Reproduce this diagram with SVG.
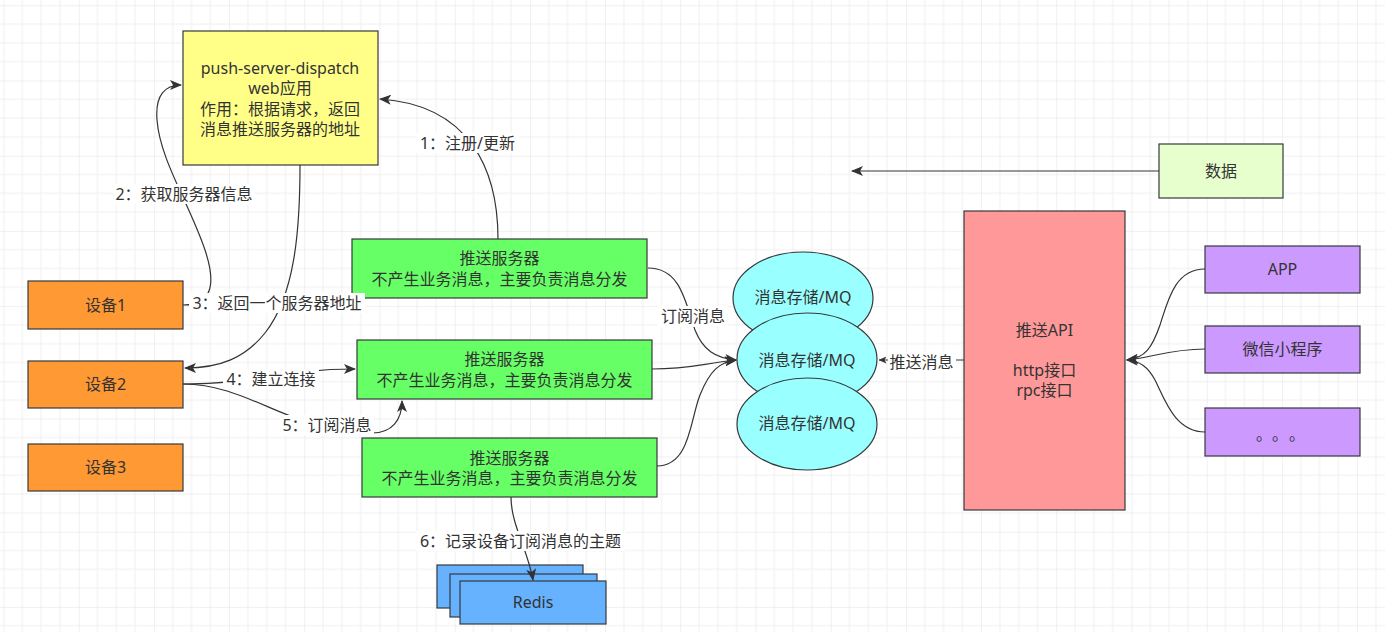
<svg xmlns="http://www.w3.org/2000/svg" width="1385" height="632" viewBox="0 0 1385 632">
<defs>
<pattern id="grid" x="3.5" y="5.3" width="75.2" height="75.2" patternUnits="userSpaceOnUse">
<path d="M18.8,0 V75.2 M37.6,0 V75.2 M56.4,0 V75.2 M0,18.8 H75.2 M0,37.6 H75.2 M0,56.4 H75.2" stroke="#f0f0f0" stroke-width="1" fill="none"/>
<path d="M0,0 V75.2 M0,0 H75.2" stroke="#e2e2e2" stroke-width="1" fill="none"/>
</pattern>
<marker id="arr" viewBox="0 0 12 10" refX="11" refY="5" markerWidth="12" markerHeight="10" markerUnits="userSpaceOnUse" orient="auto">
<path d="M0,0 L12,5 L0,10 L3,5 Z" fill="#333333"/>
</marker>
<marker id="arrs" viewBox="0 0 8 7" refX="7.5" refY="3.5" markerWidth="8" markerHeight="7" markerUnits="userSpaceOnUse" orient="auto">
<path d="M0,0 L8,3.5 L0,7 L2,3.5 Z" fill="#333333"/>
</marker>
</defs>
<style>
text{font-family:"Noto Sans","Noto Sans CJK SC",sans-serif;font-size:16px;fill:#333333;text-anchor:middle;dominant-baseline:central}
text.cjk{font-family:"Noto Sans CJK SC",sans-serif}
.n{stroke:#36393d;stroke-width:1.2}
.e{fill:none;stroke:#333333;stroke-width:1.2}
.lb{fill:#ffffff}
</style>
<rect width="1385" height="632" fill="#ffffff"/>
<rect width="1385" height="632" fill="url(#grid)"/>

<g id="dispatch">
<rect class="n" x="183" y="31" width="195" height="134" fill="#ffff88"/>
<text x="280" y="68">push-server-dispatch</text>
<text x="280" y="88">web应用</text>
<text x="280" y="109">作用：根据请求，返回</text>
<text x="280" y="129">消息推送服务器的地址</text>
</g>
<g id="device1"><rect class="n" x="28" y="281" width="155" height="48" fill="#ff9933"/><text x="105.5" y="305">设备1</text></g>
<g id="device2"><rect class="n" x="28" y="361" width="155" height="47" fill="#ff9933"/><text x="105.5" y="384">设备2</text></g>
<g id="device3"><rect class="n" x="28" y="444" width="155" height="47" fill="#ff9933"/><text x="105.5" y="467">设备3</text></g>

<g id="push1"><rect class="n" x="352" y="239" width="295" height="59" fill="#66ff66"/><text x="499.5" y="258">推送服务器</text><text x="499.5" y="279">不产生业务消息，主要负责消息分发</text></g>
<g id="push2"><rect class="n" x="357" y="340" width="295" height="59" fill="#66ff66"/><text x="504.5" y="359">推送服务器</text><text x="504.5" y="380">不产生业务消息，主要负责消息分发</text></g>
<g id="push3"><rect class="n" x="362" y="438" width="295" height="59" fill="#66ff66"/><text x="509.5" y="458">推送服务器</text><text x="509.5" y="478">不产生业务消息，主要负责消息分发</text></g>

<g id="mq1"><ellipse class="n" cx="803" cy="298" rx="70" ry="46" fill="#99ffff"/><text x="803" y="297">消息存储/MQ</text></g>
<g id="mq2"><ellipse class="n" cx="807" cy="359" rx="70" ry="46" fill="#99ffff"/><text x="807" y="360">消息存储/MQ</text></g>
<g id="mq3"><ellipse class="n" cx="807" cy="424" rx="70" ry="46" fill="#99ffff"/><text x="807" y="423">消息存储/MQ</text></g>

<g id="data"><rect class="n" x="1159" y="144" width="124" height="54" fill="#e6ffcc"/><text x="1221" y="171">数据</text></g>

<g id="pushapi">
<rect class="n" x="964" y="211" width="161" height="299" fill="#ff9999"/>
<text x="1044.5" y="330">推送API</text>
<text x="1044.5" y="370">http接口</text>
<text x="1044.5" y="390">rpc接口</text>
</g>

<g id="app"><rect class="n" x="1205" y="246" width="155" height="47" fill="#cc99ff"/><text x="1282.5" y="269">APP</text></g>
<g id="wechat"><rect class="n" x="1205" y="326" width="155" height="47" fill="#cc99ff"/><text x="1282.5" y="349">微信小程序</text></g>
<g id="others"><rect class="n" x="1205" y="408" width="155" height="48" fill="#cc99ff"/><text class="cjk" x="1264 1280 1297" y="433">。。。</text></g>

<g id="redis">
<rect class="n" x="437" y="565" width="146" height="43" fill="#66b2ff"/>
<rect class="n" x="450" y="574" width="147" height="43" fill="#66b2ff"/>
<rect class="n" x="460" y="581" width="146" height="43" fill="#66b2ff"/>
<text x="533" y="602">Redis</text>
</g>

<g id="connectors">
<path class="e" d="M498,239 C498,170 470,105 380,99" marker-end="url(#arr)"/>
<path class="e" d="M183,305 C215,305 215,280 205,250 C190,205 160,160 157,120 C155,95 165,85 181,85" marker-end="url(#arr)"/>
<path class="e" d="M300,165 C300,230 295,295 265,333 C245,358 220,368 185,368" marker-end="url(#arr)"/>
<path class="e" d="M183,384 C260,384 280,369 355,369" marker-end="url(#arr)"/>
<path class="e" d="M183,384 C250,384 290,433 372,433 C392,433 402,420 402,401" marker-end="url(#arr)"/>
<path class="e" d="M648,268 C680,268 685,300 695,330 C703,350 715,358 736,360" marker-end="url(#arr)"/>
<path class="e" d="M652,369 C690,369 700,364 736,360" marker-end="url(#arr)"/>
<path class="e" d="M657,466 C690,466 690,420 700,395 C710,370 720,362 736,360" marker-end="url(#arr)"/>
<path class="e" d="M511,497 C511,525 528,550 533,580" marker-end="url(#arr)"/>
<path class="e" d="M1159,171 L852,171" marker-end="url(#arr)"/>
<path class="e" d="M964,360 L879,360" marker-end="url(#arrs)"/>
<path class="e" d="M1205,269 C1175,269 1168,300 1160,325 C1152,348 1145,358 1127,360" marker-end="url(#arr)"/>
<path class="e" d="M1205,349 C1170,349 1150,358 1127,360" marker-end="url(#arr)"/>
<path class="e" d="M1205,432 C1175,432 1165,400 1155,380 C1148,367 1140,361 1127,360" marker-end="url(#arr)"/>

<rect class="lb" x="416" y="133" width="103" height="20"/><text x="467.5" y="143">1：注册/更新</text>
<rect class="lb" x="113" y="184" width="142" height="20"/><text x="184" y="194">2：获取服务器信息</text>
<rect class="lb" x="189" y="293" width="176" height="20"/><text x="277" y="303">3：返回一个服务器地址</text>
<rect class="lb" x="223" y="369" width="96" height="20"/><text x="271" y="379">4：建立连接</text>
<rect class="lb" x="280" y="415" width="94" height="20"/><text x="327" y="425">5：订阅消息</text>
<rect class="lb" x="658" y="306" width="70" height="21"/><text x="693" y="316">订阅消息</text>
<rect class="lb" x="888" y="352" width="68" height="20"/><text x="921.5" y="362">推送消息</text>
<rect class="lb" x="416" y="531" width="209" height="20"/><text x="520.5" y="541">6：记录设备订阅消息的主题</text>
</g>
</svg>
